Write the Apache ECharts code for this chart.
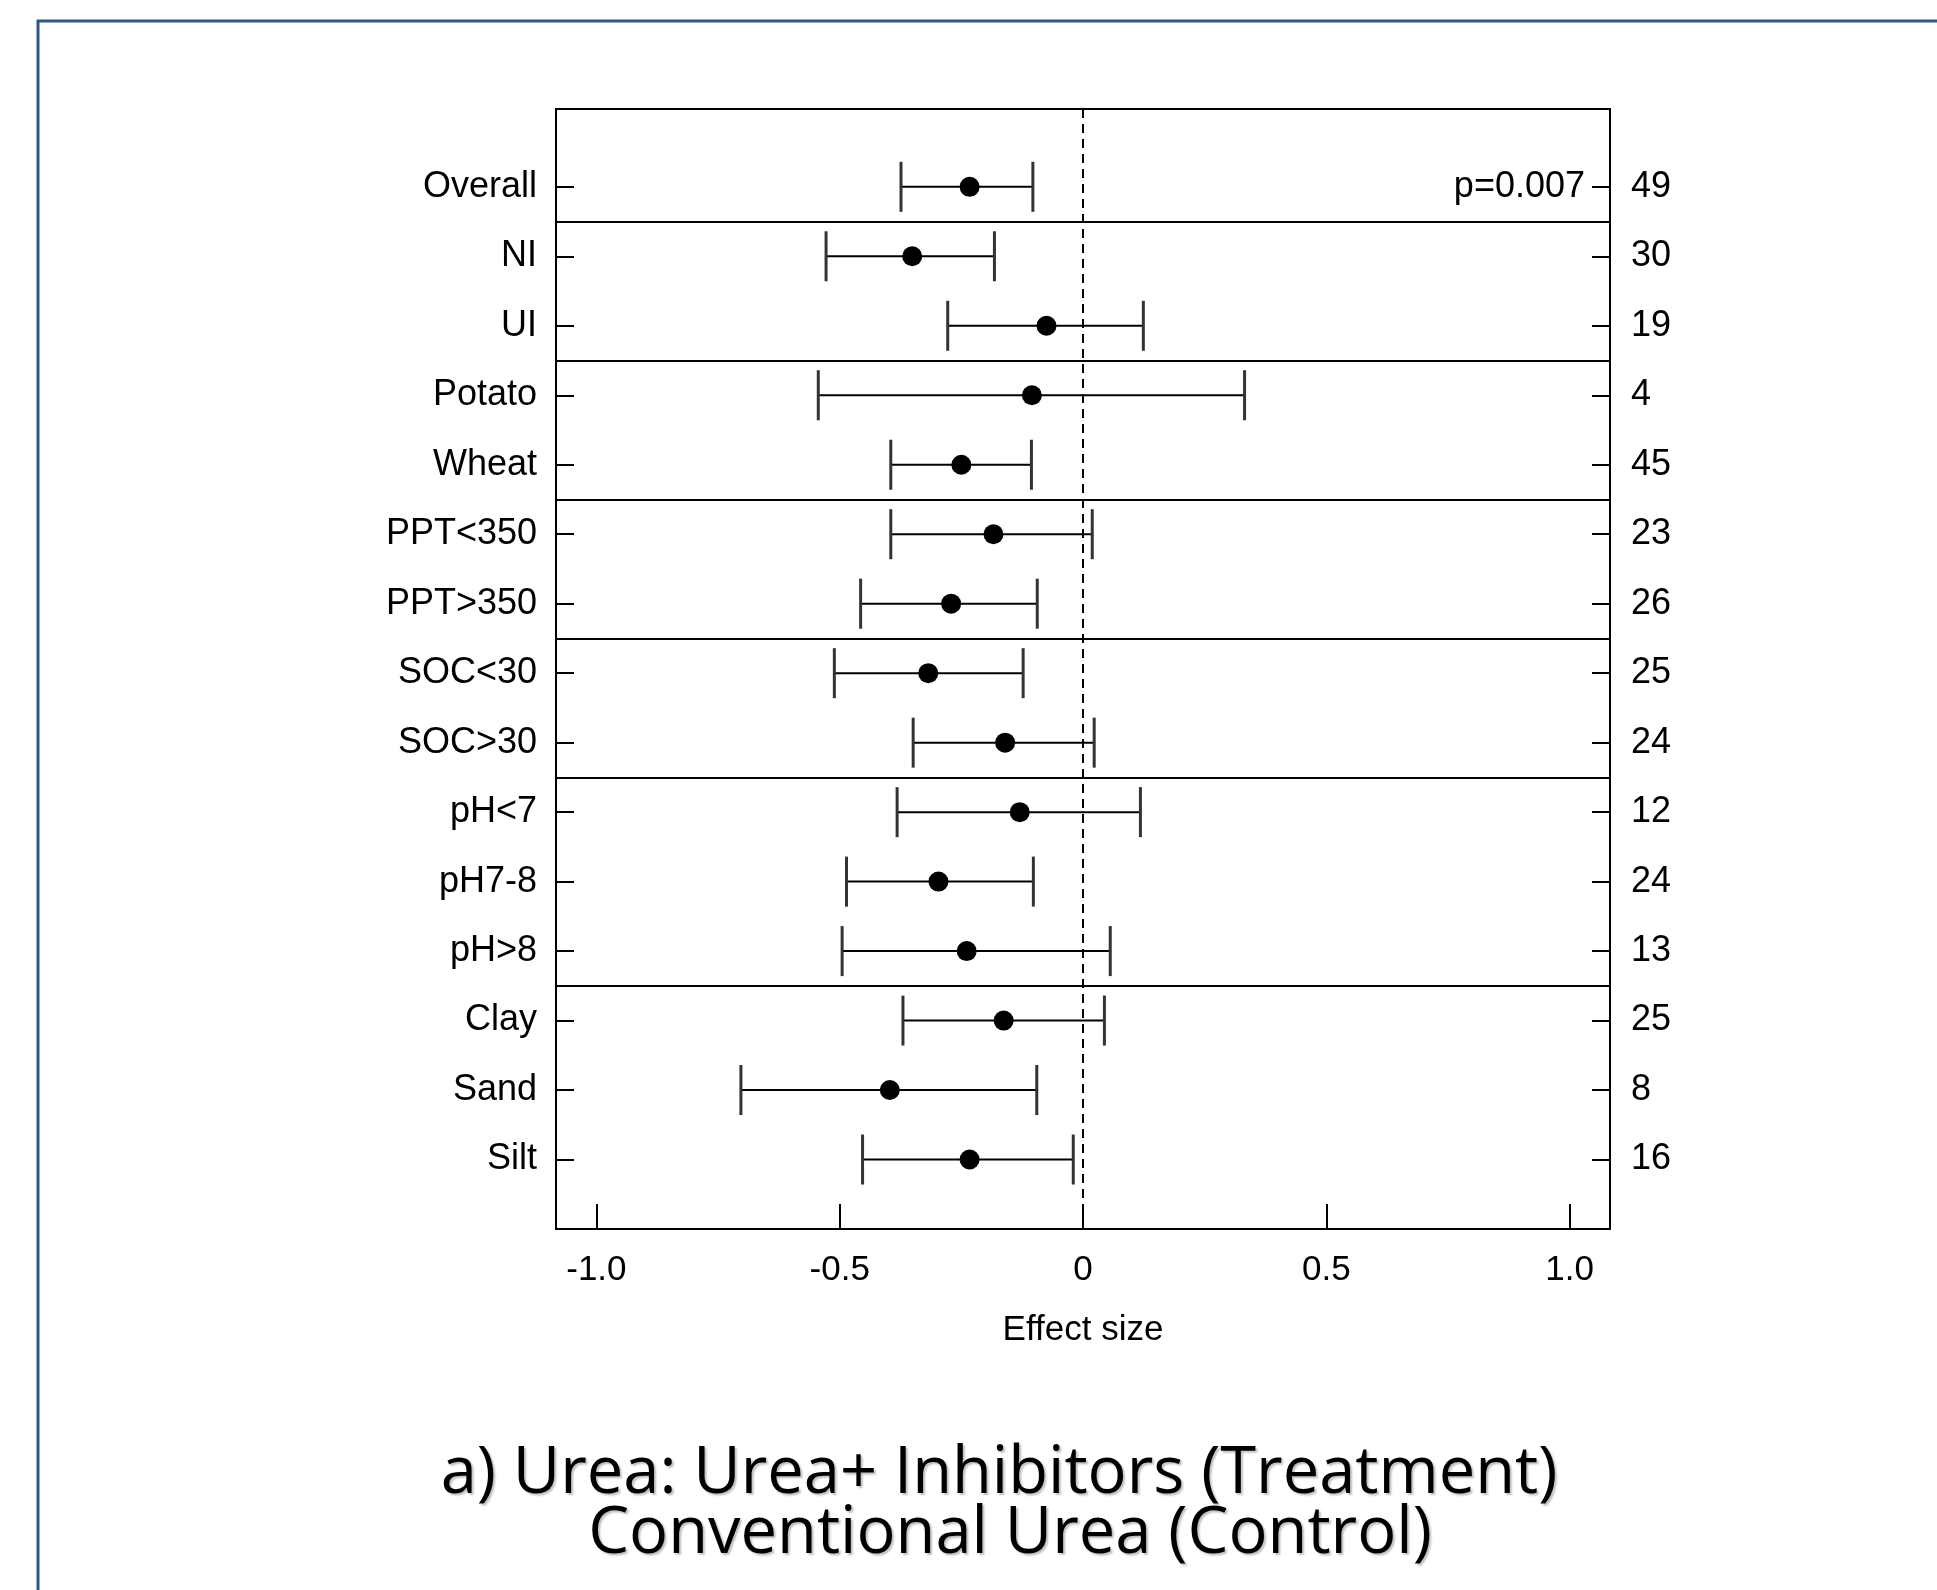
<!DOCTYPE html>
<html>
<head>
<meta charset="utf-8">
<script src="https://cdn.jsdelivr.net/npm/echarts@6/dist/echarts.min.js"></script>
<style>
  html, body { margin: 0; padding: 0; background: #fff; }
  #main { width: 1937px; height: 1590px; }
</style>
</head>
<body>
<div id="main"></div>
<script>
// subgroups, top to bottom
const categories = ['Overall', 'NI', 'UI', 'Potato', 'Wheat', 'PPT<350', 'PPT>350', 'SOC<30', 'SOC>30', 'pH<7', 'pH7-8', 'pH>8', 'Clay', 'Sand', 'Silt'];
// mean effect size and 95% CI
const effect = [-0.233, -0.351, -0.075, -0.105, -0.250, -0.184, -0.271, -0.318, -0.160, -0.130, -0.297, -0.239, -0.163, -0.397, -0.233];
const lower = [-0.374, -0.528, -0.278, -0.544, -0.395, -0.395, -0.457, -0.511, -0.349, -0.382, -0.486, -0.495, -0.370, -0.703, -0.453];
const upper = [-0.103, -0.182, 0.124, 0.332, -0.106, 0.019, -0.094, -0.123, 0.023, 0.118, -0.102, 0.056, 0.044, -0.095, -0.020];
// number of observations
const counts = [49, 30, 19, 4, 45, 23, 26, 25, 24, 12, 24, 13, 25, 8, 16];
// separators between groups (row positions)
const groupBreaks = [1.5, 3.5, 5.5, 7.5, 9.5, 12.5];
const xTicks = [-1, -0.5, 0, 0.5, 1];
const xTickLabels = ['-1.0', '-0.5', '0', '0.5', '1.0'];
const pText = 'p=0.007';

const rows = categories.map((c, i) => i + 1);
const font = "'Liberation Sans', Arial, sans-serif";
const xMin = -1.083, xMax = 1.083;

let chart = echarts.init(document.getElementById('main'));

let option = {
    animation: false,
    backgroundColor: '#fff',
    grid: {
        left: 556, right: 327, top: 109, bottom: 361,
        show: true,
        borderColor: '#000',
        borderWidth: 2
    },
    xAxis: {
        type: 'value',
        min: xMin,
        max: xMax,
        position: 'bottom',
        name: 'Effect size',
        nameLocation: 'middle',
        nameGap: 84,
        nameTextStyle: { fontFamily: font, fontSize: 35, color: '#000' },
        axisLine: { show: false, onZero: false },
        splitLine: { show: false },
        axisTick: {
            show: true, inside: true, length: 25,
            customValues: xTicks,
            lineStyle: { color: '#000', width: 2 }
        },
        axisLabel: {
            customValues: xTicks,
            margin: 24,
            fontFamily: font, fontSize: 35, color: '#000',
            formatter: function (v) {
                let i = xTicks.indexOf(v);
                return i >= 0 ? xTickLabels[i] : '';
            }
        }
    },
    yAxis: [
        {
            type: 'value',
            inverse: true,
            min: -0.12,
            max: 16,
            position: 'left',
            axisLine: { show: false, onZero: false },
            splitLine: { show: false },
            axisTick: {
                show: true, inside: true, length: 18,
                customValues: rows,
                lineStyle: { color: '#000', width: 2 }
            },
            axisLabel: {
                customValues: rows,
                margin: 19,
                fontFamily: font, fontSize: 36, color: '#000',
                formatter: function (v) { return categories[v - 1] || ''; }
            }
        },
        {
            type: 'value',
            inverse: true,
            min: -0.12,
            max: 16,
            position: 'right',
            axisLine: { show: false, onZero: false },
            splitLine: { show: false },
            axisTick: {
                show: true, inside: true, length: 18,
                customValues: rows,
                lineStyle: { color: '#000', width: 2 }
            },
            axisLabel: {
                customValues: rows,
                margin: 21,
                fontFamily: font, fontSize: 36, color: '#000',
                formatter: function (v) { return counts[v - 1] != null ? String(counts[v - 1]) : ''; }
            }
        }
    ],
    series: [
        {
            // confidence intervals
            type: 'custom',
            name: 'ci',
            data: rows.map((r, i) => [lower[i], upper[i], r]),
            encode: { x: [0, 1], y: 2 },
            z: 2,
            renderItem: function (params, api) {
                let y = api.value(2);
                let p1 = api.coord([api.value(0), y]);
                let p2 = api.coord([api.value(1), y]);
                let h = 25;
                return {
                    type: 'group',
                    children: [
                        { type: 'line', shape: { x1: p1[0], y1: p1[1], x2: p2[0], y2: p2[1] }, style: { stroke: '#000', lineWidth: 2 } },
                        { type: 'line', shape: { x1: p1[0], y1: p1[1] - h, x2: p1[0], y2: p1[1] + h }, style: { stroke: '#333', lineWidth: 3 } },
                        { type: 'line', shape: { x1: p2[0], y1: p2[1] - h, x2: p2[0], y2: p2[1] + h }, style: { stroke: '#333', lineWidth: 3 } }
                    ]
                };
            }
        },
        {
            type: 'scatter',
            name: 'effect',
            data: rows.map((r, i) => [effect[i], r]),
            symbol: 'circle',
            symbolSize: 20,
            itemStyle: { color: '#000', opacity: 1 },
            z: 3,
            markLine: {
                silent: true,
                symbol: ['none', 'none'],
                label: { show: false },
                data: groupBreaks.map(v => ({ yAxis: v, lineStyle: { color: '#000', width: 2, type: 'solid' } }))
                    .concat([{ xAxis: 0, lineStyle: { color: '#000', width: 2, type: [9, 6] } }])
            }
        },
        {
            type: 'scatter',
            name: 'p',
            data: [[xMax, 1]],
            symbolSize: 0,
            silent: true,
            itemStyle: { opacity: 1 },
            label: {
                show: true,
                position: 'left',
                distance: 25,
                formatter: pText,
                fontFamily: font, fontSize: 36, color: '#000'
            }
        }
    ],
    graphic: [
        {
            type: 'polyline',
            shape: { points: [[38, 1590], [38, 21], [1937, 21]] },
            style: { stroke: '#2B5886', lineWidth: 3, fill: null }
        },
        {
            type: 'text',
            x: 999, y: 1474,
            style: {
                text: 'a) Urea: Urea+ Inhibitors (Treatment)',
                fontFamily: "'Open Sans'", fontSize: 65, fill: '#000',
                align: 'center', verticalAlign: 'middle',
                textShadowColor: 'rgba(0,0,0,0.25)', textShadowOffsetX: 2, textShadowOffsetY: 2, textShadowBlur: 2
            }
        },
        {
            type: 'text',
            x: 1010, y: 1534,
            style: {
                text: 'Conventional Urea (Control)',
                fontFamily: "'Open Sans'", fontSize: 65, fill: '#000',
                align: 'center', verticalAlign: 'middle',
                textShadowColor: 'rgba(0,0,0,0.25)', textShadowOffsetX: 2, textShadowOffsetY: 2, textShadowBlur: 2
            }
        }
    ]
};

chart.setOption(option);
</script>
</body>
</html>
